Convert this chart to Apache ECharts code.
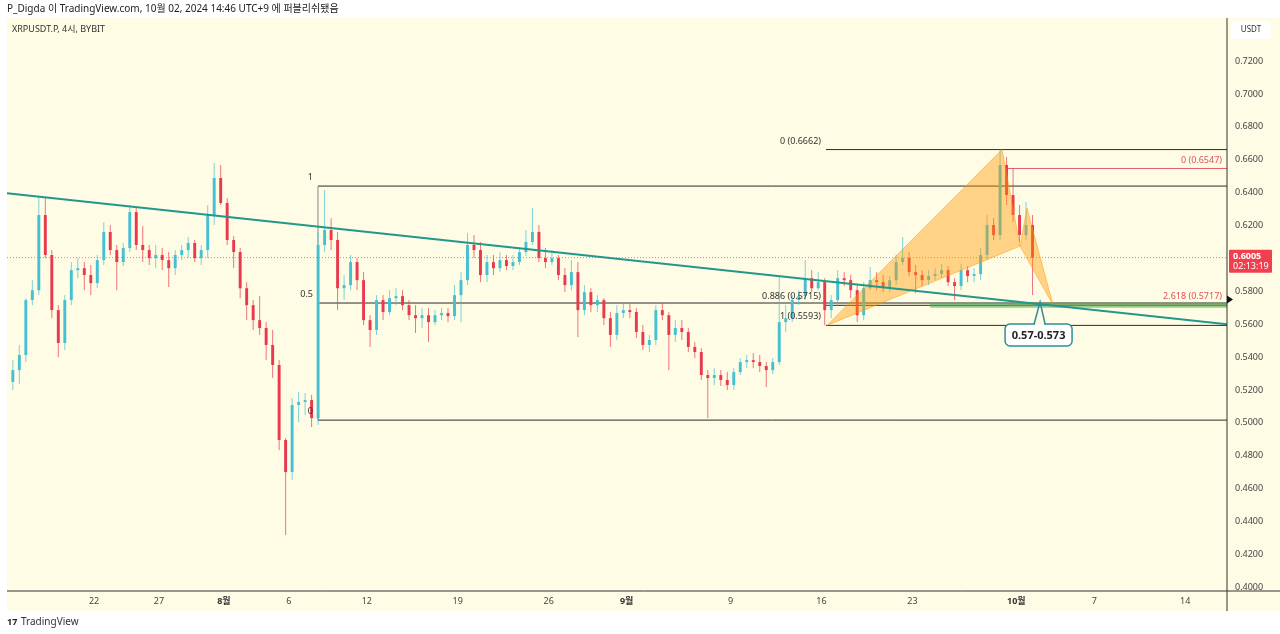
<!DOCTYPE html>
<html>
<head>
<meta charset="utf-8">
<title>XRPUSDT.P 4시 BYBIT</title>
<script src="https://cdn.jsdelivr.net/npm/echarts@6/dist/echarts.min.js"></script>
<style>
    html, body { margin: 0; padding: 0; background: #fff; }
    #chart { width: 1280px; height: 634px; }
</style>
</head>
<body>
<div id="chart"></div>
<script>
(function () {
    var FONT = "'Noto Sans', 'Noto Sans CJK KR', sans-serif";

    // x 값: 7월 1일 0시 기준 일(day) 단위, 12시간 봉
    var firstCandleDay = 14.75;
    var candleStepDays = 0.5;

    var opens = [
        0.5249, 0.5321, 0.5413, 0.5747, 0.5807, 0.6264, 0.6021, 0.5686, 0.5486, 0.5747,
        0.5929, 0.5941, 0.5899, 0.5850, 0.5990, 0.6161, 0.6051, 0.5978, 0.6063, 0.6282,
        0.6082, 0.6051, 0.6002, 0.6021, 0.5990, 0.5941, 0.6021, 0.6051, 0.6094, 0.6002,
        0.6051, 0.6264, 0.6489, 0.6337, 0.6112, 0.6039, 0.5819, 0.5716, 0.5625, 0.5577,
        0.5474, 0.5352, 0.4896, 0.4701, 0.5109, 0.5127, 0.5139, 0.5029, 0.6082, 0.6173,
        0.6112, 0.5819, 0.5838, 0.5978, 0.5868, 0.5625, 0.5565, 0.5747, 0.5674, 0.5758,
        0.5771, 0.5716, 0.5655, 0.5637, 0.5655, 0.5613, 0.5655, 0.5668, 0.5649, 0.5777,
        0.5868, 0.6082, 0.6051, 0.5899, 0.5978, 0.5941, 0.5990, 0.5954, 0.5978, 0.6039,
        0.6100, 0.6161, 0.6002, 0.5978, 0.6002, 0.5899, 0.5838, 0.5917, 0.5686, 0.5795,
        0.5716, 0.5747, 0.5637, 0.5535, 0.5668, 0.5686, 0.5674, 0.5553, 0.5474, 0.5504,
        0.5686, 0.5655, 0.5535, 0.5577, 0.5553, 0.5462, 0.5431, 0.5291, 0.5273, 0.5291,
        0.5261, 0.5230, 0.5309, 0.5370, 0.5382, 0.5370, 0.5346, 0.5321, 0.5370, 0.5613,
        0.5637, 0.5747, 0.5771, 0.5880, 0.5819, 0.5856, 0.5686, 0.5747, 0.5880, 0.5868,
        0.5807, 0.5655, 0.5819, 0.5868, 0.5856, 0.5819, 0.5868, 0.5978, 0.6002, 0.5917,
        0.5899, 0.5868, 0.5893, 0.5905, 0.5929, 0.5856, 0.5832, 0.5929, 0.5893, 0.5905,
        0.6021, 0.6203, 0.6142, 0.6568, 0.6386, 0.6264, 0.6142, 0.6203
    ];
    var closes = [
        0.5321, 0.5413, 0.5747, 0.5807, 0.6264, 0.6021, 0.5686, 0.5486, 0.5747, 0.5929,
        0.5941, 0.5899, 0.5850, 0.5990, 0.6161, 0.6051, 0.5978, 0.6063, 0.6282, 0.6082,
        0.6051, 0.6002, 0.6021, 0.5990, 0.5941, 0.6021, 0.6051, 0.6094, 0.6002, 0.6051,
        0.6264, 0.6489, 0.6337, 0.6112, 0.6039, 0.5819, 0.5716, 0.5625, 0.5577, 0.5474,
        0.5352, 0.4896, 0.4701, 0.5109, 0.5127, 0.5139, 0.5029, 0.6082, 0.6173, 0.6112,
        0.5819, 0.5838, 0.5978, 0.5868, 0.5625, 0.5565, 0.5747, 0.5674, 0.5758, 0.5771,
        0.5716, 0.5655, 0.5637, 0.5655, 0.5613, 0.5655, 0.5668, 0.5649, 0.5777, 0.5868,
        0.6082, 0.6051, 0.5899, 0.5978, 0.5941, 0.5990, 0.5954, 0.5978, 0.6039, 0.6100,
        0.6161, 0.6002, 0.5978, 0.6002, 0.5899, 0.5838, 0.5917, 0.5686, 0.5795, 0.5716,
        0.5747, 0.5637, 0.5535, 0.5668, 0.5686, 0.5674, 0.5553, 0.5474, 0.5504, 0.5686,
        0.5655, 0.5535, 0.5577, 0.5553, 0.5462, 0.5431, 0.5291, 0.5273, 0.5291, 0.5261,
        0.5230, 0.5309, 0.5370, 0.5382, 0.5370, 0.5346, 0.5321, 0.5370, 0.5613, 0.5637,
        0.5747, 0.5771, 0.5880, 0.5819, 0.5856, 0.5686, 0.5747, 0.5880, 0.5868, 0.5807,
        0.5655, 0.5819, 0.5868, 0.5856, 0.5819, 0.5868, 0.5978, 0.6002, 0.5917, 0.5899,
        0.5868, 0.5893, 0.5905, 0.5929, 0.5856, 0.5832, 0.5929, 0.5893, 0.5905, 0.6021,
        0.6203, 0.6142, 0.6568, 0.6386, 0.6264, 0.6142, 0.6203, 0.6005
    ];
    var highs = [
        0.5382, 0.5474, 0.5758, 0.5868, 0.6373, 0.6367, 0.6051, 0.5716, 0.5777, 0.5978,
        0.6002, 0.5978, 0.5960, 0.6021, 0.6221, 0.6203, 0.6082, 0.6094, 0.6325, 0.6306,
        0.6197, 0.6082, 0.6082, 0.6063, 0.6039, 0.6051, 0.6082, 0.6130, 0.6112, 0.6082,
        0.6325, 0.6580, 0.6568, 0.6367, 0.6136, 0.6063, 0.5856, 0.5747, 0.5771, 0.5613,
        0.5565, 0.5382, 0.4908, 0.5151, 0.5188, 0.5182, 0.5170, 0.6161, 0.6416, 0.6245,
        0.6161, 0.5899, 0.6021, 0.6002, 0.5917, 0.5655, 0.5777, 0.5777, 0.5807, 0.5819,
        0.5807, 0.5747, 0.5716, 0.5698, 0.5698, 0.5686, 0.5698, 0.5698, 0.5838, 0.5917,
        0.6154, 0.6142, 0.6100, 0.6021, 0.6021, 0.6039, 0.6021, 0.6021, 0.6069, 0.6173,
        0.6306, 0.6203, 0.6063, 0.6051, 0.6021, 0.5941, 0.5990, 0.5978, 0.5838, 0.5819,
        0.5777, 0.5758, 0.5674, 0.5716, 0.5729, 0.5723, 0.5698, 0.5595, 0.5535, 0.5716,
        0.5729, 0.5674, 0.5625, 0.5625, 0.5577, 0.5492, 0.5455, 0.5321, 0.5333, 0.5321,
        0.5309, 0.5333, 0.5394, 0.5413, 0.5425, 0.5413, 0.5370, 0.5394, 0.5887, 0.5716,
        0.5777, 0.5807, 0.5990, 0.5929, 0.5917, 0.5880, 0.5777, 0.5929, 0.5917, 0.5899,
        0.5838, 0.5856, 0.5948, 0.5917, 0.5899, 0.5893, 0.6021, 0.6130, 0.6039, 0.5960,
        0.5929, 0.5929, 0.5941, 0.5966, 0.5954, 0.5880, 0.5966, 0.5954, 0.5941, 0.6063,
        0.6264, 0.6245, 0.6662, 0.6617, 0.6547, 0.6325, 0.6343, 0.6264
    ];
    var lows = [
        0.5200, 0.5237, 0.5370, 0.5716, 0.5777, 0.6002, 0.5637, 0.5400, 0.5443, 0.5716,
        0.5880, 0.5807, 0.5777, 0.5819, 0.5960, 0.6021, 0.5807, 0.5954, 0.6039, 0.6051,
        0.5978, 0.5960, 0.5941, 0.5929, 0.5826, 0.5899, 0.5990, 0.6002, 0.5978, 0.5960,
        0.6002, 0.6203, 0.6325, 0.6082, 0.5941, 0.5758, 0.5625, 0.5565, 0.5535, 0.5382,
        0.5273, 0.4835, 0.4319, 0.4653, 0.5005, 0.5048, 0.4975, 0.4987, 0.6039, 0.6051,
        0.5686, 0.5747, 0.5807, 0.5807, 0.5595, 0.5462, 0.5535, 0.5625, 0.5655, 0.5716,
        0.5686, 0.5625, 0.5547, 0.5577, 0.5492, 0.5595, 0.5625, 0.5613, 0.5625, 0.5613,
        0.5838, 0.6002, 0.5856, 0.5856, 0.5899, 0.5917, 0.5929, 0.5929, 0.5960, 0.6015,
        0.6082, 0.5978, 0.5941, 0.5960, 0.5868, 0.5795, 0.5807, 0.5522, 0.5655, 0.5674,
        0.5674, 0.5595, 0.5462, 0.5504, 0.5637, 0.5637, 0.5516, 0.5443, 0.5431, 0.5474,
        0.5625, 0.5321, 0.5492, 0.5504, 0.5431, 0.5394, 0.5261, 0.5029, 0.5230, 0.5224,
        0.5200, 0.5200, 0.5291, 0.5333, 0.5333, 0.5309, 0.5218, 0.5297, 0.5352, 0.5553,
        0.5613, 0.5716, 0.5747, 0.5795, 0.5807, 0.5593, 0.5637, 0.5716, 0.5832, 0.5758,
        0.5613, 0.5625, 0.5807, 0.5807, 0.5795, 0.5795, 0.5838, 0.5960, 0.5893, 0.5789,
        0.5832, 0.5838, 0.5868, 0.5880, 0.5832, 0.5747, 0.5807, 0.5856, 0.5856, 0.5868,
        0.5990, 0.6112, 0.6112, 0.6325, 0.6221, 0.6100, 0.6112, 0.5777
    ];

    // 축 눈금
    var dateTicks = [21, 26, 31, 36, 42, 49, 56, 62, 70, 77, 84, 92, 98, 105];
    var dateLabels = ['22', '27', '8월', '6', '12', '19', '26', '9월', '9', '16', '23', '10월', '7', '14'];
    var priceTicks = [0.40, 0.42, 0.44, 0.46, 0.48, 0.50, 0.52, 0.54, 0.56, 0.58, 0.60, 0.62, 0.64, 0.66, 0.68, 0.70, 0.72];

    // 작도 (추세선, 피보나치, 패턴, 구간)
    var trendX = [14.30, 108.22];
    var trendY = [0.6397, 0.5600];
    var fibAStart = 38.24;
    var fibALevels = [0.6440, 0.5729, 0.5017];
    var fibALabels = ['1', '0.5', '0'];
    var fibBStart = 77.35;
    var fibBLevels = [0.6662, 0.5715, 0.5593];
    var fibBLabels = ['0 (0.6662)', '0.886 (0.5715)', '1 (0.5593)'];
    var fibCStart = 91.36;
    var fibCLevels = [0.6547, 0.5717];
    var fibCLabels = ['0 (0.6547)', '2.618 (0.5717)'];
    var zoneStart = 85.36;
    var zoneLow = 0.570;
    var zoneHigh = 0.573;
    var patternX = [77.43, 90.90, 92.29, 92.82, 94.83];
    var patternY = [0.5593, 0.6662, 0.6075, 0.6306, 0.5717];
    var calloutX = 93.83;
    var calloutY = 0.5735;
    var calloutText = '0.57-0.573';
    var lastPrice = 0.6005;
    var countdown = '02:13:19';
    var arrowPrice = 0.5750;

    var xMin = 14.30, xMax = 108.22, yMin = 0.3978, yMax = 0.7462;
    var UP = '#45C0D2', DOWN = '#E8394F', INK = '#2b2b2b';

    var candleData = opens.map(function (o, i) {
        return [firstCandleDay + i * candleStepDays, o, closes[i], lows[i], highs[i]];
    });

    function renderCandle(params, api) {
        var x = api.value(0), o = api.value(1), c = api.value(2), l = api.value(3), h = api.value(4);
        var pO = api.coord([x, o]), pC = api.coord([x, c]);
        var pL = api.coord([x, l]), pH = api.coord([x, h]);
        var w = api.size([candleStepDays, 0])[0] * 0.45;
        var color = c >= o ? UP : DOWN;
        var top = Math.min(pO[1], pC[1]);
        return {
            type: 'group',
            children: [{
                type: 'line',
                shape: { x1: pH[0], y1: pH[1], x2: pL[0], y2: pL[1] },
                style: { stroke: color, lineWidth: 1, opacity: 0.7 }
            }, {
                type: 'rect',
                shape: { x: pO[0] - w / 2, y: top, width: w, height: Math.max(1, Math.abs(pO[1] - pC[1])) },
                style: { fill: color }
            }]
        };
    }

    function levelSeries(start, level, color) {
        return {
            type: 'line',
            data: [[start, level], [xMax, level]],
            symbol: 'none',
            silent: true,
            z: 1,
            lineStyle: { color: color, width: 1 }
        };
    }

    var series = [];
    fibALevels.forEach(function (lv) { series.push(levelSeries(fibAStart, lv, INK)); });
    fibBLevels.forEach(function (lv) { series.push(levelSeries(fibBStart, lv, INK)); });
    fibCLevels.forEach(function (lv) { series.push(levelSeries(fibCStart, lv, '#E5606B')); });
    series.push({
        type: 'line',
        data: [[fibAStart, fibALevels[2]], [fibAStart, fibALevels[0]]],
        symbol: 'none', silent: true, z: 1,
        lineStyle: { color: 'rgba(90,90,90,0.7)', width: 1 }
    });
    series.push({
        type: 'line',
        data: [[xMin, lastPrice], [xMax, lastPrice]],
        symbol: 'none', silent: true, z: 1,
        lineStyle: { color: 'rgba(235,80,90,0.75)', width: 1, type: [1, 2] }
    });
    series.push({
        type: 'custom',
        renderItem: renderCandle,
        data: candleData,
        encode: { x: 0, y: [1, 2, 3, 4] },
        z: 3
    });
    series.push({
        type: 'line',
        data: [[trendX[0], trendY[0]], [trendX[1], trendY[1]]],
        symbol: 'none', silent: true, z: 6,
        lineStyle: { color: '#22988A', width: 2 }
    });

    var myChart = echarts.init(document.getElementById('chart'));
    myChart.setOption({
        animation: false,
        backgroundColor: '#FFFCE6',
        grid: { left: 7, right: 53, top: 18, bottom: 43 },
        xAxis: {
            type: 'value', min: xMin, max: xMax,
            axisLine: { show: false }, axisTick: { show: false }, splitLine: { show: false },
            axisLabel: {
                customValues: dateTicks,
                margin: 6,
                fontSize: 9,
                color: '#444',
                fontFamily: FONT,
                formatter: function (v) {
                    var k = dateTicks.indexOf(v);
                    if (k < 0) return '';
                    return dateLabels[k].indexOf('월') > 0 ? '{m|' + dateLabels[k] + '}' : dateLabels[k];
                },
                rich: { m: { fontWeight: 'bold', fontSize: 9, color: '#333', fontFamily: FONT } }
            }
        },
        yAxis: {
            type: 'value', position: 'right', min: yMin, max: yMax,
            axisLine: { show: false }, axisTick: { show: false }, splitLine: { show: false },
            axisLabel: {
                customValues: priceTicks,
                margin: 8,
                fontSize: 9,
                color: '#444',
                fontFamily: FONT,
                formatter: function (v) { return v.toFixed(4); }
            }
        },
        series: series
    });

    // 화면 좌표로 변환해서 주석을 그림
    function px(x, y) { return myChart.convertToPixel({ gridIndex: 0 }, [x, y]); }
    var g = [];

    // 패턴 삼각형 (XAB, BCD)
    var P = patternX.map(function (x, i) { return px(x, patternY[i]); });
    [[P[0], P[1], P[2]], [P[2], P[3], P[4]]].forEach(function (tri) {
        g.push({ type: 'polygon', z: 4, silent: true, shape: { points: tri },
            style: { fill: 'rgba(255,152,0,0.42)', stroke: 'rgba(255,152,0,0.5)', lineWidth: 1 } });
    });

    // 초록색 구간
    var z0 = px(zoneStart, zoneHigh), z1 = px(xMax, zoneLow);
    g.push({ type: 'rect', z: 5, silent: true,
        shape: { x: z0[0], y: z0[1], width: z1[0] - z0[0], height: z1[1] - z0[1] },
        style: { fill: 'rgba(76,175,80,0.6)' } });

    function label(x, y, text, align, color) {
        g.push({ type: 'text', z: 7, silent: true, x: x, y: y,
            style: { text: text, align: align, verticalAlign: 'middle', fill: color || '#333',
                font: '9px ' + FONT } });
    }
    fibALevels.forEach(function (lv, i) {
        var p = px(fibAStart, lv);
        label(p[0] - 5, p[1] - 9, fibALabels[i], 'right');
    });
    fibBLevels.forEach(function (lv, i) {
        var p = px(fibBStart, lv);
        label(p[0] - 5, p[1] - 8.5, fibBLabels[i], 'right');
    });
    fibCLevels.forEach(function (lv, i) {
        var p = px(xMax, lv);
        label(p[0] - 5, p[1] - 8.5, fibCLabels[i], 'right', '#E0505C');
    });

    // 말풍선
    var t = px(calloutX, calloutY);
    var bx0 = t[0] - 35, bx1 = t[0] + 32, by0 = t[1] + 22, by1 = t[1] + 44;
    g.push({ type: 'rect', z: 8, silent: true,
        shape: { x: bx0, y: by0, width: bx1 - bx0, height: by1 - by0, r: 5 },
        style: { fill: '#fff', stroke: '#2E8E98', lineWidth: 1.5 } });
    g.push({ type: 'line', z: 8, silent: true,
        shape: { x1: t[0] - 5, y1: by0, x2: t[0] + 4, y2: by0 },
        style: { stroke: '#FFFCE6', lineWidth: 2 } });
    g.push({ type: 'polyline', z: 8, silent: true,
        shape: { points: [[t[0] - 6, by0], [t[0], t[1]], [t[0] + 5, by0]] },
        style: { stroke: '#2E8E98', lineWidth: 1.5, fill: null } });
    g.push({ type: 'text', z: 9, silent: true, x: (bx0 + bx1) / 2, y: (by0 + by1) / 2 + 0.5,
        style: { text: calloutText, align: 'center', verticalAlign: 'middle', fill: '#222',
            font: 'bold 11px ' + FONT } });

    // 축 프레임
    var gr = px(xMax, yMin);
    var gt = px(xMax, yMax);
    g.push({ type: 'line', z: 9, silent: true, shape: { x1: 7, y1: gr[1], x2: 1280, y2: gr[1] },
        style: { stroke: '#333', lineWidth: 1 } });
    g.push({ type: 'line', z: 9, silent: true, shape: { x1: gr[0], y1: gt[1], x2: gr[0], y2: 611 },
        style: { stroke: '#333', lineWidth: 1 } });

    // 현재가 라벨
    var lp = px(xMax, lastPrice);
    g.push({ type: 'rect', z: 10, silent: true, shape: { x: gr[0] + 2, y: lp[1] - 8, width: 43, height: 23, r: 1 },
        style: { fill: '#F0404F' } });
    g.push({ type: 'text', z: 11, silent: true, x: gr[0] + 6, y: lp[1] - 1.5,
        style: { text: lastPrice.toFixed(4), verticalAlign: 'middle', fill: '#fff', font: 'bold 9px ' + FONT } });
    g.push({ type: 'text', z: 11, silent: true, x: gr[0] + 6, y: lp[1] + 9,
        style: { text: countdown, verticalAlign: 'middle', fill: '#fff', font: '9px ' + FONT } });

    // 오른쪽 화살표
    var ap = px(xMax, arrowPrice);
    g.push({ type: 'polygon', z: 10, silent: true,
        shape: { points: [[ap[0], ap[1] - 4], [ap[0] + 6, ap[1]], [ap[0], ap[1] + 4]] },
        style: { fill: '#111' } });

    // USDT 박스
    g.push({ type: 'rect', z: 10, silent: true, shape: { x: gr[0] + 4, y: 21, width: 40, height: 18, r: 3 },
        style: { fill: '#fff' } });
    g.push({ type: 'text', z: 11, silent: true, x: gr[0] + 24, y: 30,
        style: { text: 'USDT', align: 'center', verticalAlign: 'middle', fill: '#333', font: '8px ' + FONT } });

    // 바깥 흰 여백과 머리말/꼬리말
    g.push({ type: 'rect', z: 20, silent: true, shape: { x: 0, y: 0, width: 1280, height: 18 }, style: { fill: '#fff' } });
    g.push({ type: 'rect', z: 20, silent: true, shape: { x: 0, y: 611, width: 1280, height: 23 }, style: { fill: '#fff' } });
    g.push({ type: 'rect', z: 20, silent: true, shape: { x: 0, y: 0, width: 7, height: 634 }, style: { fill: '#fff' } });
    g.push({ type: 'text', z: 21, silent: true, x: 7, y: 9,
        style: { text: 'P_Digda 이 TradingView.com, 10월 02, 2024 14:46 UTC+9 에 퍼블리쉬됐음',
            verticalAlign: 'middle', fill: '#222', font: '10px ' + FONT } });
    g.push({ type: 'text', z: 21, silent: true, x: 12, y: 29,
        style: { text: 'XRPUSDT.P, 4시, BYBIT', verticalAlign: 'middle', fill: '#333', font: '9px ' + FONT } });
    g.push({ type: 'text', z: 21, silent: true, x: 7, y: 622,
        style: { text: '17', verticalAlign: 'middle', fill: '#222', font: 'bold 9px ' + FONT } });
    g.push({ type: 'text', z: 21, silent: true, x: 21, y: 622,
        style: { text: 'TradingView', verticalAlign: 'middle', fill: '#333', font: '10px ' + FONT } });

    myChart.setOption({ graphic: g });

    window.addEventListener('resize', function () {
        myChart.resize();
    });
})();
</script>
</body>
</html>
